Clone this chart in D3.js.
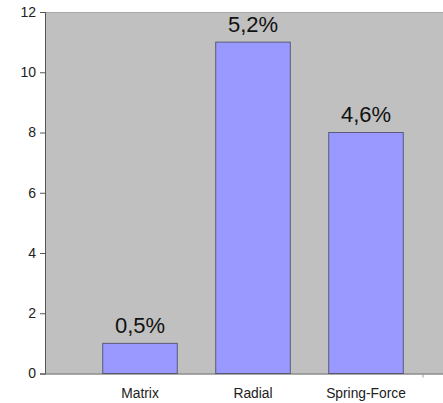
<!DOCTYPE html>
<html>
<head>
<meta charset="utf-8">
<script src="https://cdn.jsdelivr.net/npm/d3@7"></script>
<style>
  html, body { margin: 0; padding: 0; background: #fff; }
  svg { display: block; }
  text { font-family: "Liberation Sans", Arial, sans-serif; }
</style>
</head>
<body>
<svg id="chart" width="443" height="403"></svg>
<script>
// Layout algorithms compared
const categories = ["Matrix", "Radial", "Spring-Force"];
const values = [1, 11, 8];
const barLabels = ["0,5%", "5,2%", "4,6%"];
const yTicks = [0, 2, 4, 6, 8, 10, 12];

const svg = d3.select("#chart");
const W = 443, H = 403;
const plot = { left: 46, top: 12, right: 443, bottom: 373.5 };

const y = d3.scaleLinear().domain([0, 12]).range([plot.bottom, plot.top]);
const x = d3.scaleBand()
  .domain(categories)
  .range([83.5, 422.5])
  .paddingInner(0.34)
  .paddingOuter(0.17);

// plot background
svg.append("rect")
  .attr("x", plot.left).attr("y", plot.top)
  .attr("width", plot.right - plot.left + 2).attr("height", plot.bottom - plot.top)
  .attr("fill", "#c0c0c0");

// top border
svg.append("line")
  .attr("x1", plot.left).attr("x2", plot.right)
  .attr("y1", plot.top + 0.5).attr("y2", plot.top + 0.5)
  .attr("stroke", "#a8a8a8").attr("stroke-width", 1);

// bars
svg.append("g").selectAll("rect")
  .data(categories)
  .join("rect")
  .attr("x", d => x(d))
  .attr("width", x.bandwidth())
  .attr("y", (d, i) => y(values[i]))
  .attr("height", (d, i) => y(0) - y(values[i]))
  .attr("fill", "#9999ff")
  .attr("stroke", "#5a5a7a")
  .attr("stroke-width", 1);

// value labels above bars
svg.append("g").selectAll("text")
  .data(categories)
  .join("text")
  .attr("x", d => x(d) + x.bandwidth() / 2)
  .attr("y", (d, i) => y(values[i]) - 10.5)
  .attr("text-anchor", "middle")
  .attr("font-size", 22)
  .attr("fill", "#111")
  .text((d, i) => barLabels[i]);

// y axis
const yAxis = svg.append("g")
  .attr("transform", `translate(${plot.left},0)`)
  .call(d3.axisLeft(y).tickValues(yTicks).tickSize(6).tickPadding(4).tickFormat(d3.format("d")));
yAxis.select(".domain").attr("stroke", "#555").attr("d", `M-0.5,${plot.top}V${plot.bottom}`);
yAxis.selectAll(".tick line").attr("stroke", "#555");
yAxis.selectAll(".tick text")
  .attr("font-size", 14).attr("fill", "#222")
  .style("font-family", "'Liberation Sans', Arial, sans-serif");

// x axis
const xAxis = svg.append("g")
  .attr("transform", `translate(0,${plot.bottom})`)
  .call(d3.axisBottom(x).tickSize(0).tickPadding(15));
xAxis.select(".domain").attr("stroke", "#555").attr("d", `M${plot.left - 6},0.5H${W}`);
xAxis.selectAll(".tick text")
  .attr("font-size", 13.8).attr("fill", "#222")
  .style("font-family", "'Liberation Sans', Arial, sans-serif");

// category boundary tick at the end of the band range
svg.append("line")
  .attr("x1", x.range()[1] + 0.5).attr("x2", x.range()[1] + 0.5)
  .attr("y1", plot.bottom).attr("y2", plot.bottom + 4)
  .attr("stroke", "#999");
</script>
</body>
</html>
